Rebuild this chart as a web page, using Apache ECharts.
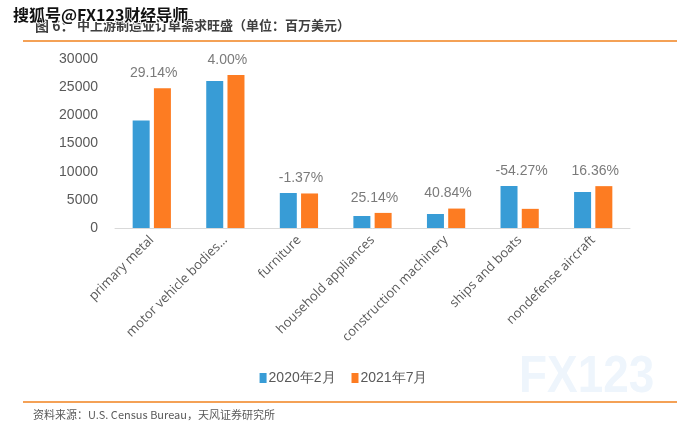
<!DOCTYPE html>
<html>
<head>
<meta charset="utf-8">
<script src="https://cdn.jsdelivr.net/npm/echarts@6/dist/echarts.min.js"></script>
<style>
html,body{margin:0;padding:0;background:#fff;}
#chart{width:687px;height:433px;}
</style>
</head>
<body>
<div id="chart"></div>
<script>
var categories = ['primary metal', 'motor vehicle bodies…', 'furniture', 'household appliances', 'construction machinery', 'ships and boats', 'nondefense aircraft'];
var feb2020 = [19100, 26100, 6210, 2130, 2490, 7460, 6390];
var jul2021 = [24800, 27150, 6130, 2680, 3450, 3400, 7430];
var pctLabels = ['29.14%', '4.00%', '-1.37%', '25.14%', '40.84%', '-54.27%', '16.36%'];
var seriesNames = ['2020年2月', '2021年7月'];

var labelTops = categories.map(function (c, i) { return Math.max(feb2020[i], jul2021[i]); });

var chart = echarts.init(document.getElementById('chart'));
var gray = '#595959';
chart.setOption({
  animation: false,
  backgroundColor: '#fff',
  grid: { left: 115, right: 57, top: 59, bottom: 205 },
  legend: {
    data: seriesNames,
    bottom: 43,
    left: 'center',
    itemWidth: 7, itemHeight: 10, itemGap: 16,
    icon: 'rect',
    textStyle: { color: gray, fontSize: 14, fontFamily: 'Liberation Sans, Arial, sans-serif', padding: [0, 0, 0, -3] }
  },
  xAxis: {
    type: 'category',
    data: categories,
    axisLine: { lineStyle: { color: '#d9d9d9', width: 1 } },
    axisTick: { show: false },
    axisLabel: { rotate: 45, color: gray, fontSize: 13, margin: 10, interval: 0, fontFamily: 'Open Sans, sans-serif' }
  },
  yAxis: {
    type: 'value',
    min: 0, max: 30000, interval: 5000,
    axisLine: { show: false },
    axisTick: { show: false },
    splitLine: { show: false },
    axisLabel: { color: gray, fontSize: 14, margin: 17, fontFamily: 'Liberation Sans, Arial, sans-serif',
      formatter: function (v) { return String(v); } }
  },
  series: [
    { name: seriesNames[0], type: 'bar', data: feb2020, barWidth: 17, barGap: '25%', itemStyle: { color: '#389cd6' } },
    { name: seriesNames[1], type: 'bar', data: jul2021, barWidth: 17, itemStyle: { color: '#fd7c22' } },
    {
      name: 'pct', type: 'scatter', data: labelTops, symbolSize: 0, silent: true,
      label: {
        show: true, position: 'top', distance: 8, offset: [2, 0],
        formatter: function (p) { return pctLabels[p.dataIndex]; },
        color: gray, fontSize: 14, fontFamily: 'Liberation Sans, Arial, sans-serif'
      }
    }
  ],
  graphic: [
    { type: 'text', left: 519, top: 352, scaleX: 0.9, style: { text: 'FX123', font: 'bold 51px "Liberation Sans"', fill: '#eef5fc' }, z: -1 },
    { type: 'line', shape: { x1: 23, y1: 41, x2: 677, y2: 41 }, style: { stroke: '#f0821e', lineWidth: 1.5 } },
    { type: 'line', shape: { x1: 23, y1: 402, x2: 677, y2: 402 }, style: { stroke: '#f0821e', lineWidth: 1.5 } },
    { type: 'text', left: 35, top: 19, style: { text: '图 6：', font: 'bold 14px "Noto Sans CJK SC"', fill: '#3f3f3f' } },
    { type: 'text', left: 77, top: 19, style: { text: '中上游制造业订单需求旺盛（单位：百万美元）', font: 'bold 13px "Noto Sans CJK SC"', fill: '#3f3f3f' } },
    { type: 'text', left: 12, top: 6, style: { text: '搜狐号@FX123财经导师', font: 'bold 16px "Noto Sans CJK SC"', fill: '#111', stroke: '#fff', lineWidth: 2 } },
    { type: 'text', left: 33, top: 409, style: { text: '资料来源：U.S. Census Bureau，天风证券研究所', font: '11px "Noto Sans CJK SC"', fill: '#595959' } }
  ]
});
</script>
</body>
</html>
